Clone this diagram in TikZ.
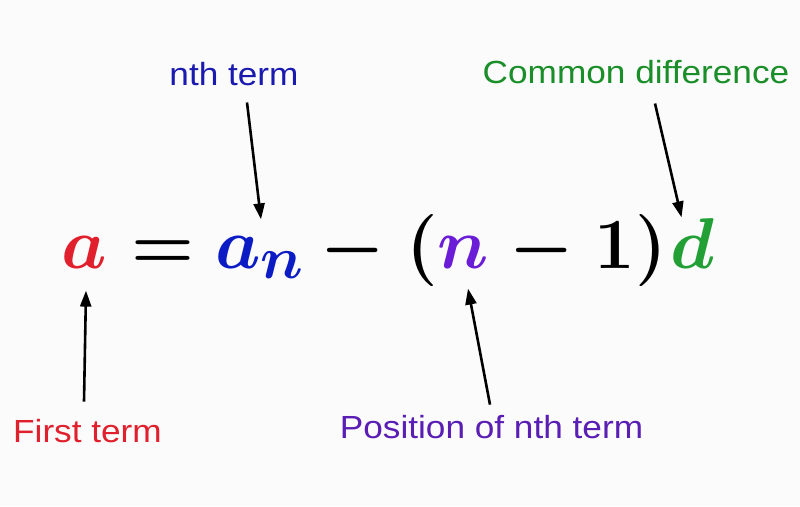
\documentclass[tikz,border=0pt]{standalone}
\usepackage[no-math]{fontspec}
\newfontfamily\labfont{Liberation Sans}
\usetikzlibrary{arrows.meta}
\definecolor{cRed}{HTML}{E0202C}
\definecolor{cBlue}{HTML}{0C1CC4}
\definecolor{cBlueL}{HTML}{1A1AB0}
\definecolor{cPur}{HTML}{6A1CD6}
\definecolor{cPurL}{HTML}{5A1EB4}
\definecolor{cGrn}{HTML}{22A035}
\definecolor{cGrnL}{HTML}{1A8E28}
\definecolor{bg}{HTML}{FBFBFB}
\tikzset{
  fm/.style={inner sep=0pt, anchor=base, scale=2.894, font=\Huge\boldmath},
  lbl/.style={inner sep=0pt, anchor=base, xscale=1.1, font=\fontsize{32}{38}\selectfont\labfont},
  arr/.style={line width=2.6pt, -{Triangle[length=16pt,width=11pt]}}
}
\begin{document}
\begin{tikzpicture}[x=1pt,y=-1pt]
\fill[bg] (0,0) rectangle (800,506);
\useasboundingbox (0,0) rectangle (800,506);
% formula
\node[fm, text=cRed] (fa) at (84,268) {$a$};
\node[fm] (eq) at (162.5,268) {$=$};
\node[fm, text=cBlue] (an) at (260,268) {$a_n$};
\node[fm] (m1) at (353,268) {$-$};
\node[fm] (lp) at (422.5,268) {$($};
\node[fm, text=cPur] (fn) at (463,268) {$n$};
\node[fm] (m2) at (541.5,268) {$-$};
\node[fm] (one) at (615,268) {$1$};
\node[fm] (rp) at (651,268) {$)$};
\node[fm, text=cGrn] (fd) at (692.5,268) {$d$};
% labels
\node[lbl, text=cBlueL] (nth) at (234,85) {nth term};
\node[lbl, text=cGrnL] (cd) at (636,83) {Common difference};
\node[lbl, text=cRed] (ft) at (87.5,442) {First term};
\node[lbl, text=cPurL] (pos) at (491.5,438) {Position of nth term};
% connectors
\draw[arr] ([shift={(13,17)}]nth.south) -- ([shift={(1,-16)}]an.north);
\draw[arr] ([shift={(19,20)}]cd.south) -- ([shift={(-11,0)}]fd.north);
\draw[arr] ([shift={(-3.5,-17)}]ft.north) -- ([shift={(2,22)}]fa.south);
\draw[arr] ([shift={(-1.5,-10)}]pos.north) -- ([shift={(5,20)}]fn.south);
\end{tikzpicture}
\end{document}
